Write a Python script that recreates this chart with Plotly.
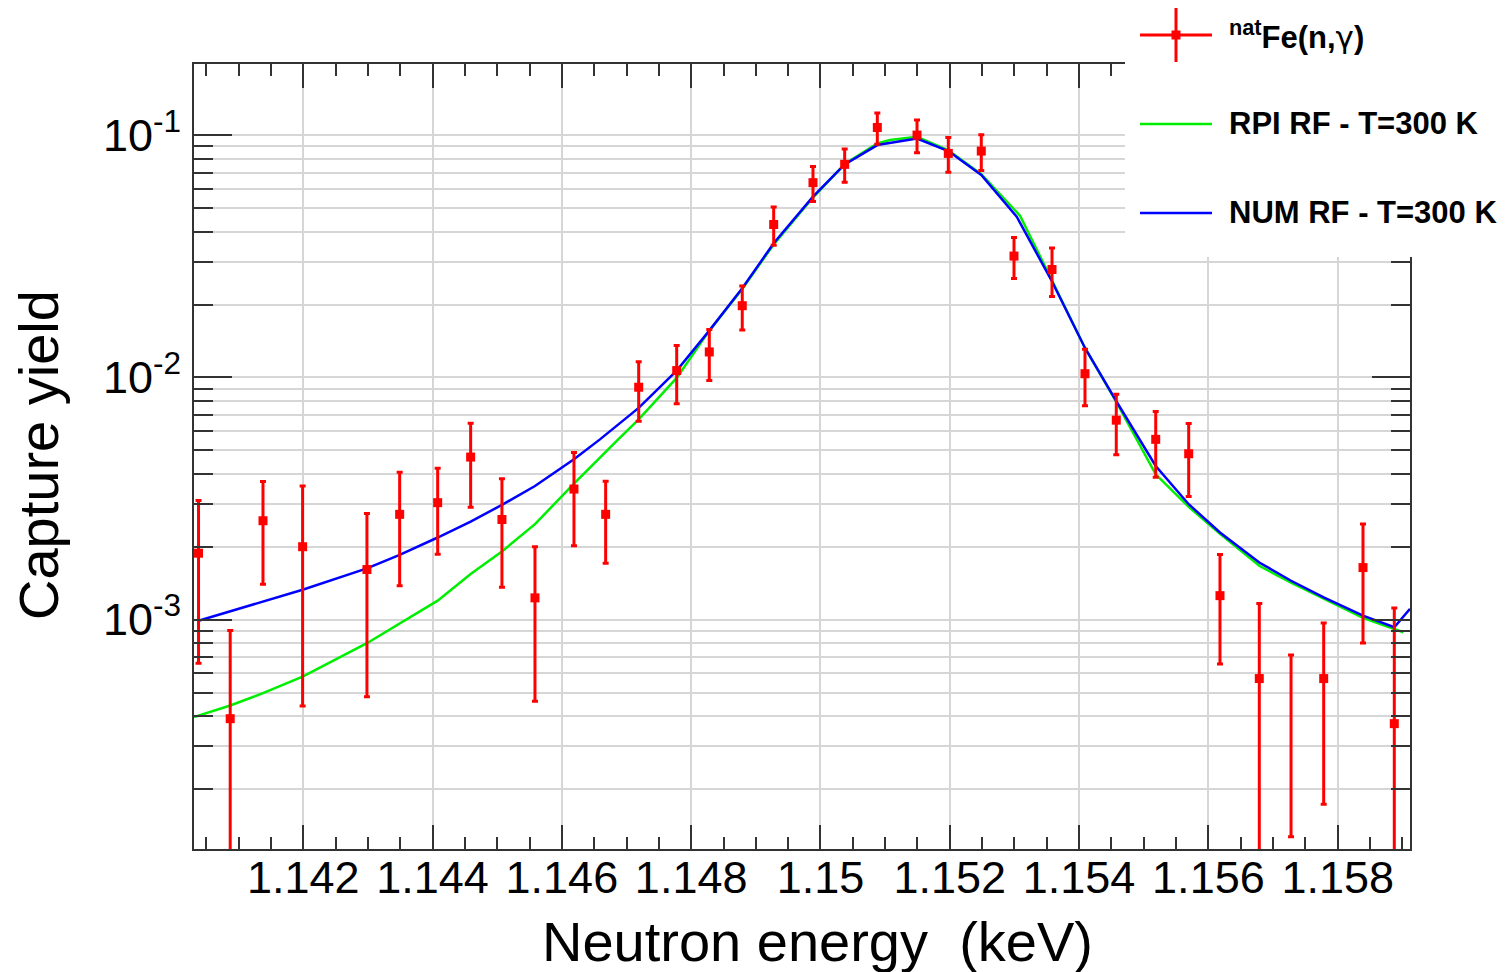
import plotly.graph_objects as go

# ---------------- data ----------------
energy = [1.14038, 1.14087, 1.141377, 1.14199, 1.142985, 1.143491, 1.144079, 1.144589,
          1.145073, 1.145584, 1.146187, 1.146677, 1.147188, 1.147776, 1.14828, 1.14879,
          1.149276, 1.149884, 1.150374, 1.150879, 1.151493, 1.151977, 1.152487, 1.152993,
          1.153581, 1.154091, 1.154575, 1.155185, 1.155695, 1.156179, 1.156787, 1.157278,
          1.157783, 1.158391, 1.158875]
yield_exp = [1.88e-3, 3.90e-4, 2.56e-3, 2.00e-3, 1.61e-3, 2.72e-3, 3.04e-3, 4.69e-3,
             2.59e-3, 1.23e-3, 3.46e-3, 2.72e-3, 9.11e-3, 1.067e-2, 1.274e-2, 1.977e-2,
             4.28e-2, 6.37e-2, 7.58e-2, 0.1076, 0.1001, 0.0841, 0.086, 3.17e-2,
             2.79e-2, 1.036e-2, 6.66e-3, 5.55e-3, 4.84e-3, 1.256e-3, 5.71e-4, 4.21e-4,
             5.71e-4, 1.64e-3, 3.72e-4]
yield_err = [1.22e-3, 5.11e-4, 1.16e-3, 1.56e-3, 1.13e-3, 1.34e-3, 1.18e-3, 1.78e-3,
             1.23e-3, 7.7e-4, 1.44e-3, 1.01e-3, 2.51e-3, 2.89e-3, 3.04e-3, 4.07e-3,
             7.7e-3, 1.05e-2, 1.19e-2, 0.0159, 0.0154, 0.0137, 0.0145, 6.1e-3,
             6.3e-3, 2.72e-3, 1.87e-3, 1.68e-3, 1.62e-3, 6.0e-4, 5.96e-4, 2.94e-4,
             3.98e-4, 8.4e-4, 7.45e-4]
marker_visible = [1] * 31 + [0] + [1] * 3

num_x = [1.14038, 1.14199, 1.142985, 1.143491, 1.144079, 1.144589, 1.145073, 1.145584,
         1.146187, 1.146589, 1.147188, 1.147776, 1.14828, 1.14879, 1.149276, 1.149884,
         1.150374, 1.150879, 1.151493, 1.151977, 1.152487, 1.153035, 1.153581, 1.154091,
         1.154575, 1.155185, 1.155695, 1.156179, 1.156787, 1.157278, 1.157783, 1.158391,
         1.158875, 1.159118]
num_y = [9.9e-4, 1.329e-3, 1.627e-3, 1.852e-3, 2.183e-3, 2.541e-3, 2.976e-3, 3.563e-3,
         4.59e-3, 5.549e-3, 7.488e-3, 1.067e-2, 1.56e-2, 2.336e-2, 3.581e-2, 5.576e-2,
         7.576e-2, 9.105e-2, 9.69e-2, 8.6e-2, 6.85e-2, 4.612e-2, 2.489e-2, 1.323e-2,
         7.98e-3, 4.31e-3, 2.996e-3, 2.289e-3, 1.722e-3, 1.447e-3, 1.235e-3, 1.039e-3,
         9.30e-4, 1.107e-3]

rpi_x = [1.14031, 1.14087, 1.141377, 1.14199, 1.142985, 1.143491, 1.144079, 1.144589,
         1.145073, 1.145584, 1.146187, 1.146872, 1.147188, 1.147776, 1.14828, 1.14879,
         1.149276, 1.149884, 1.150374, 1.150879, 1.151075, 1.151493, 1.151977, 1.152487,
         1.153086, 1.153581, 1.154091, 1.154575, 1.155185, 1.155695, 1.156179, 1.156787,
         1.157278, 1.157783, 1.158391, 1.159015]
rpi_y = [3.96e-4, 4.42e-4, 4.97e-4, 5.82e-4, 7.99e-4, 9.65e-4, 1.198e-3, 1.543e-3,
         1.911e-3, 2.478e-3, 3.642e-3, 5.549e-3, 6.71e-3, 9.95e-3, 1.56e-2, 2.32e-2,
         3.54e-2, 5.53e-2, 7.6e-2, 9.24e-2, 9.546e-2, 9.85e-2, 8.665e-2, 6.9e-2,
         4.656e-2, 2.514e-2, 1.323e-2, 7.93e-3, 3.98e-3, 2.92e-3, 2.26e-3, 1.669e-3,
         1.42e-3, 1.22e-3, 1.016e-3, 8.87e-4]

x_tickvals = [1.142, 1.144, 1.146, 1.148, 1.150, 1.152, 1.154, 1.156, 1.158]
x_ticktext = ["1.142", "1.144", "1.146", "1.148", "1.15", "1.152", "1.154", "1.156", "1.158"]
y_tickvals = [1e-3, 1e-2, 1e-1]
y_ticktext = ["10<sup>-3</sup>", "10<sup>-2</sup>", "10<sup>-1</sup>"]

legend_labels = ["<b><sup>nat</sup>Fe(n,</b><span style='font-family:DejaVu Sans'>γ</span><b>)</b>",
                 "<b>RPI RF - T=300 K</b>", "<b>NUM RF - T=300 K</b>"]

# ---------------- figure ----------------
# page coordinates (the figure sits 8 px from the page's top-left corner)
OFF = 8
W, H = 1507, 972
PL, PR, PT, PB = 194, 1410, 64, 849          # plot frame in page pixels
L, T = PL - OFF, PT - OFF
R, B = W - (PR - OFF), H - (PB - OFF)
PW, PH = PR - PL, PB - PT

def px(xp):
    return (xp - PL) / PW

def py(yp):
    return (PB - yp) / PH

FONT = "Liberation Sans, Arial, Helvetica, sans-serif"

fig = go.Figure()
fig.add_trace(go.Scatter(x=rpi_x, y=rpi_y, mode="lines",
                         line=dict(color="#00ee00", width=2.5), showlegend=False))
fig.add_trace(go.Scatter(x=num_x, y=num_y, mode="lines",
                         line=dict(color="#0000ff", width=2.5), showlegend=False))
fig.add_trace(go.Scatter(x=energy, y=yield_exp, mode="markers",
                         marker=dict(symbol="square", size=9, color="#ff0000",
                                     opacity=marker_visible),
                         error_y=dict(type="data", array=yield_err, color="#ff0000",
                                      thickness=3, width=3),
                         showlegend=False))

axis_common = dict(showline=True, linecolor="#333333", linewidth=2, mirror="allticks",
                   ticks="inside", tickcolor="#333333", tickwidth=2,
                   tickfont=dict(family=FONT, size=45, color="black"),
                   gridcolor="#d6d6d6", gridwidth=1.5, zeroline=False)

fig.update_xaxes(range=[1.14031, 1.159118], tickmode="array", tickvals=x_tickvals,
                 ticktext=x_ticktext, ticklen=24, showgrid=True, ticklabelstandoff=-12,
                 minor=dict(dtick=0.0005, tick0=1.142, ticks="inside", ticklen=12,
                            tickcolor="#333333", tickwidth=2, showgrid=False),
                 **axis_common)
fig.update_yaxes(type="log", range=[-3.947, -0.706], tickmode="array",
                 tickvals=y_tickvals, ticktext=y_ticktext, ticklen=38, showgrid=True,
                 ticklabelstandoff=2,
                 minor=dict(dtick="D1", ticks="inside", ticklen=19, tickcolor="#333333",
                            tickwidth=2, showgrid=True, gridcolor="#d6d6d6", gridwidth=1.5),
                 **axis_common)

shapes = []
annotations = []
# legend box (covers the top-right corner of the frame)
shapes.append(dict(type="rect", xref="paper", yref="paper", x0=px(1125), x1=px(1520),
                   y0=py(257), y1=py(-10), fillcolor="white", line=dict(width=0),
                   layer="above"))
leg_y = [35, 124, 213]
leg_col = ["#ff0000", "#00ee00", "#0000ff"]
for i in range(3):
    shapes.append(dict(type="line", xref="paper", yref="paper", x0=px(1140), x1=px(1212),
                       y0=py(leg_y[i]), y1=py(leg_y[i]),
                       line=dict(color=leg_col[i], width=3 if i == 0 else 2.5), layer="above"))
    annotations.append(dict(xref="paper", yref="paper", x=px(1227), y=py(leg_y[i]),
                            xanchor="left", yanchor="middle", showarrow=False,
                            text=legend_labels[i],
                            font=dict(family=FONT, size=31, color="black")))
shapes.append(dict(type="line", xref="paper", yref="paper", x0=px(1176), x1=px(1176),
                   y0=py(7), y1=py(62), line=dict(color="#ff0000", width=3), layer="above"))
shapes.append(dict(type="rect", xref="paper", yref="paper", x0=px(1171.5), x1=px(1180.5),
                   y0=py(39.5), y1=py(30.5), fillcolor="#ff0000", line=dict(width=0),
                   layer="above"))

annotations.append(dict(xref="paper", yref="paper", x=px(817), y=py(941),
                        xanchor="center", yanchor="middle", showarrow=False,
                        text="Neutron energy&nbsp; (keV)",
                        font=dict(family=FONT, size=56, color="black")))
annotations.append(dict(xref="paper", yref="paper", x=px(38), y=py(455),
                        xanchor="center", yanchor="middle", showarrow=False,
                        textangle=-90, text="Capture yield",
                        font=dict(family=FONT, size=56, color="black")))

fig.update_layout(width=W, height=H, margin=dict(l=L, r=R, t=T, b=B),
                  paper_bgcolor="white", plot_bgcolor="white",
                  shapes=shapes, annotations=annotations, showlegend=False)

fig.write_html("out.html")
